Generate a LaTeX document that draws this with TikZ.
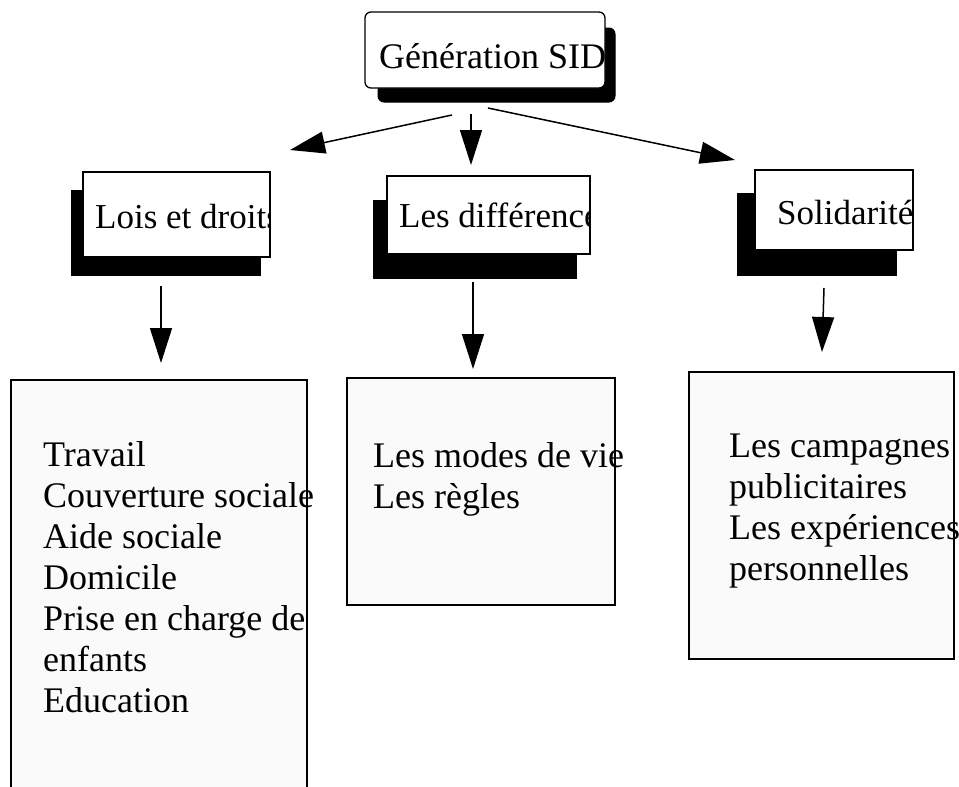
\documentclass[tikz,border=0pt]{standalone}
\usepackage{fontspec}
\setmainfont{Liberation Serif}
\usetikzlibrary{arrows.meta}
\definecolor{paper}{HTML}{FAFAFA}
\tikzset{
  front/.style={draw=black, line width=1.3pt, fill=white, inner sep=0pt, outer sep=0pt, anchor=north west},
  shadowbox/.style={draw=black, fill=black, line width=1pt, inner sep=0pt, outer sep=0pt, anchor=north west},
  listbox/.style={draw=black, fill=paper, line width=1.5pt, inner sep=0pt, outer sep=0pt, anchor=north west},
  lbl/.style={font=\fontsize{35}{41}\selectfont, inner sep=0pt, anchor=base west},
  toplbl/.style={font=\fontsize{36}{41}\selectfont, inner sep=0pt, anchor=base west},
  listtext/.style={font=\fontsize{36}{41}\selectfont, inner sep=0pt, anchor=base west, align=left},
  conn/.style={line width=1.5pt, -{Triangle[length=35pt,width=22pt]}}
}
\begin{document}
\begin{tikzpicture}[x=1pt,y=-1pt]
\useasboundingbox (0,0) rectangle (959,787);
\begin{scope}
\clip (0,0) rectangle (959,787);

% top box
\node[shadowbox, rounded corners=6pt, minimum width=237pt, minimum height=74pt] (topS) at (378,28) {};
\node[front, rounded corners=6pt, minimum width=240pt, minimum height=76pt] (top) at (365,12) {};
\begin{scope}
\clip (top.north west) rectangle (top.south east);
\node[toplbl] (topT) at (379,68) {Génération SID};
\end{scope}

% Lois et droits
\node[shadowbox, minimum width=189pt, minimum height=85pt] (loisS) at (71,190) {};
\node[front, minimum width=187pt, minimum height=85pt] (lois) at (83,172) {};
\begin{scope}
\clip (lois.north west) rectangle (lois.south east);
\node[lbl] (loisT) at (95,228) {Lois et droits};
\end{scope}

% Les differences
\node[shadowbox, minimum width=203pt, minimum height=78pt] (diffS) at (373,200) {};
\node[front, minimum width=203pt, minimum height=78pt] (diff) at (387,176) {};
\begin{scope}
\clip (diff.north west) rectangle (diff.south east);
\node[lbl] (diffT) at (399,227) {Les différences};
\end{scope}

% Solidarite
\node[shadowbox, minimum width=159pt, minimum height=82pt] (solS) at (737,193) {};
\node[front, minimum width=158pt, minimum height=80pt] (sol) at (755,170) {};
\begin{scope}
\clip (sol.north west) rectangle (sol.south east);
\node[lbl] (solT) at (777,224) {Solidarité};
\end{scope}

% bottom boxes (text anchored at the baseline of its last line)
\node[listbox, minimum width=296pt, minimum height=430pt] (loisL) at (11,380) {};
\node[listtext] (loisLT) at (43,712) {Travail\\Couverture sociale\\Aide sociale\\Domicile\\Prise en charge de\\enfants\\Education};

\node[listbox, minimum width=268pt, minimum height=227pt] (diffL) at (347,378) {};
\node[listtext] (diffLT) at (373,508) {Les modes de vie\\Les règles};

\node[listbox, minimum width=265pt, minimum height=287pt] (solL) at (689,372) {};
\node[listtext] (solLT) at (729,580) {Les campagnes\\publicitaires\\Les expériences\\personnelles};

% connector end points
\coordinate (a1) at (452,115); \coordinate (b1) at (290,150);
\coordinate (a2) at (471,114); \coordinate (b2) at (471,165);
\coordinate (a3) at (488,108); \coordinate (b3) at (735,160);
\coordinate (a4) at (161,286); \coordinate (b4) at (161,363);
\coordinate (a5) at (473,282); \coordinate (b5) at (473,369);
\coordinate (a6) at (824,288); \coordinate (b6) at (822,352);

\draw[conn] (a1) -- (b1);
\draw[conn] (a2) -- (b2);
\draw[conn] (a3) -- (b3);
\draw[conn] (a4) -- (b4);
\draw[conn] (a5) -- (b5);
\draw[conn] (a6) -- (b6);
\end{scope}
\end{tikzpicture}
\end{document}
